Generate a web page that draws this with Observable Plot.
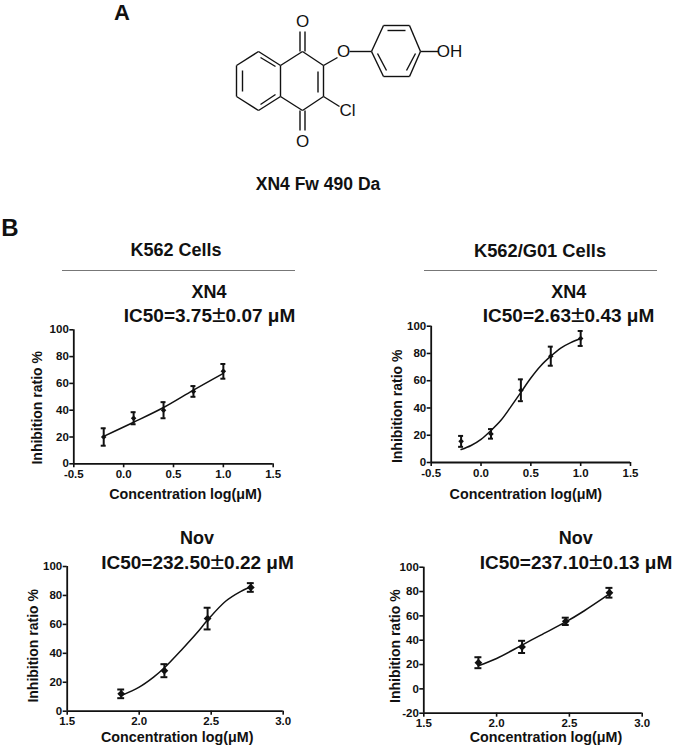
<!DOCTYPE html>
<html>
<head>
<meta charset="utf-8">
<script src="https://cdn.jsdelivr.net/npm/d3@7"></script>
<script src="https://cdn.jsdelivr.net/npm/@observablehq/plot@0.6"></script>
<style>
html,body{margin:0;padding:0;background:#fff}
#page{position:relative;width:676px;height:751px;overflow:hidden;font-family:"Liberation Sans",Arial,sans-serif;color:#111;font-weight:bold}
.t{position:absolute;white-space:nowrap;transform:translate(-50%,-50%);line-height:1.1}
.t .pm{font-weight:normal;font-size:1.3em;line-height:0.8}
.hr{position:absolute;height:1.5px;background:#777}
svg{position:absolute}
</style>
</head>
<body>
<div id="page"></div>
<script>
// ---- dose-response data ----
const xn4Dose = [-0.2, 0.1, 0.4, 0.7, 1.0];
const novDose = [1.875, 2.175, 2.475, 2.775];

const k562Xn4Mean = [20, 34, 40, 54, 69];
const k562Xn4Err  = [6.5, 4.5, 6, 4, 5.5];
const k562Xn4CurveX = [-0.2, 0.1, 0.4, 0.7, 1.0];
const k562Xn4CurveY = [20.5, 31, 42, 55, 67.5];

const g01Xn4Mean = [15.5, 21, 53, 78, 91];
const g01Xn4Err  = [4, 3.5, 8, 7, 5.5];
const g01Xn4CurveX = [-0.2, -0.1, 0, 0.1, 0.2, 0.3, 0.4, 0.5, 0.6, 0.7, 0.8, 0.9, 1.0];
const g01Xn4CurveY = [9.5, 12.5, 17, 23.5, 31, 41, 51.5, 62, 71, 78, 84, 88, 91];

const k562NovMean = [12, 28, 64, 85.5];
const k562NovErr  = [3, 4.5, 7.5, 3];
const k562NovCurveX = [1.875, 2.0, 2.1, 2.175, 2.3, 2.4, 2.475, 2.6, 2.7, 2.775];
const k562NovCurveY = [10.8, 16.6, 23.5, 30, 43, 54, 63, 76, 82.5, 86];

const g01NovMean = [21.5, 34.5, 55.5, 79];
const g01NovErr  = [4.5, 5, 3, 4];
const g01NovCurveX = [1.875, 2.0, 2.175, 2.3, 2.475, 2.6, 2.775];
const g01NovCurveY = [19, 25, 36, 44, 55, 64, 78];

const xTicksXn4 = [-0.5, 0, 0.5, 1, 1.5];
const xTicksNov = [1.5, 2, 2.5, 3];
const yTicks = [0, 20, 40, 60, 80, 100];
const yTicksNeg = [-20, 0, 20, 40, 60, 80, 100];

const xLabel = "Concentration log(μM)";
const yLabel = "Inhibition ratio %";

// ---- molecule drawing: bonds as [x1, y1, x2, y2] in drawing units ----
const naphthoquinoneBonds = [
  [78,51,56,65],[56,65,56,96],[56,96,78,110],[78,110,100,96],[100,96,100,65],[100,65,78,51],
  [100,65,122,51],[122,51,143,65],[143,65,143,96],[143,96,122,110],[122,110,100,96]
];
const innerBonds = [
  [62,70,62,91],[80,57,95,66],[80,104,95,94],[137.5,71,137.5,92],
  [119.5,51,119.5,31],[124.5,51,124.5,31],[119.5,110,119.5,130],[124.5,110,124.5,130]
];
const phenylBonds = [
  [143,65,157,57],[169,51,191,51],
  [191,51,203,25],[203,25,229,25],[229,25,240,51],[240,51,229,76],[229,76,203,76],[203,76,191,51],
  [207,30,225,30],[197,53,206,70],[235,53,226,70],
  [240,51,258,51],[143,96,159,106]
];
const atomText = ["O","O","O","Cl","OH"];
const atomX = [122,122,163,167,269];
const atomY = [21,141,51,110,51];

// ---- layout ----
const page = document.getElementById("page");
const FONT = '"Liberation Sans",Arial,sans-serif';

function label(text, x, y, size) {
  const d = document.createElement("div");
  d.className = "t";
  d.style.left = x + "px";
  d.style.top = y + "px";
  d.style.fontSize = size + "px";
  d.innerHTML = text;
  page.appendChild(d);
}
function hr(x1, x2, y) {
  const d = document.createElement("div");
  d.className = "hr";
  d.style.cssText += `left:${x1}px;width:${x2 - x1}px;top:${y}px`;
  page.appendChild(d);
}

function zip(xs, ys) { return xs.map((x, i) => ({x, y: ys[i]})); }

function panel(o) {
  const svgLeft = o.left, svgTop = o.top, w = o.w, h = o.h;
  const pts = o.dose.map((x, i) => ({x, y: o.mean[i], lo: o.mean[i] - o.err[i], hi: o.mean[i] + o.err[i]}));
  const curve = zip(o.cx, o.cy);
  const plot = Plot.plot({
    width: w, height: h,
    marginLeft: o.px[0] - svgLeft,
    marginRight: svgLeft + w - o.px[1],
    marginTop: o.py[1] - svgTop,
    marginBottom: svgTop + h - o.py[0],
    style: {fontFamily: FONT, fontWeight: "bold", fontSize: "11.5px", color: "#111", background: "transparent"},
    x: {domain: o.xDomain},
    y: {domain: o.yDomain},
    marks: [
      Plot.ruleY([o.yDomain[0]], {stroke: "#111", strokeWidth: 1.8}),
      Plot.ruleX([o.xDomain[0]], {stroke: "#111", strokeWidth: 1.8}),
      Plot.axisX({ticks: o.xTicks, tickFormat: d => d.toFixed(1), tickSize: 4, tickPadding: 2, strokeWidth: 1.6, stroke: "#111", label: null}),
      Plot.axisY({ticks: o.yTicks, tickFormat: d => String(d), tickSize: 4, tickPadding: 1, strokeWidth: 1.6, stroke: "#111", label: null}),
      Plot.line(curve, {x: "x", y: "y", curve: "catmull-rom", stroke: "#111", strokeWidth: 1.5}),
      Plot.ruleX(pts, {x: "x", y1: "lo", y2: "hi", stroke: "#111", strokeWidth: 2}),
      Plot.ruleY(pts, {y: "hi", x1: d => d.x - o.cap, x2: d => d.x + o.cap, stroke: "#111", strokeWidth: 2}),
      Plot.ruleY(pts, {y: "lo", x1: d => d.x - o.cap, x2: d => d.x + o.cap, stroke: "#111", strokeWidth: 2}),
      Plot.dot(pts, {x: "x", y: "y", r: o.r, fill: "#111", symbol: "diamond2"}),
      Plot.text([xLabel], {frameAnchor: "bottom", dx: o.xl[0], dy: o.xl[1], fontSize: 14.3, fill: "#111"}),
      Plot.text([yLabel], {frameAnchor: "left", textAnchor: "middle", rotate: -90, dx: o.yl[0], dy: o.yl[1], fontSize: 14, fill: "#111"})
    ]
  });
  plot.style.left = svgLeft + "px";
  plot.style.top = svgTop + "px";
  page.appendChild(plot);
}

const PM = '<span class="pm">±</span>';

// headings
label("A", 122, 13, 22);
label("B", 10, 228, 24);
label("XN4 Fw 490 Da", 318, 185, 17.5);
label("K562 Cells", 176, 250.5, 18);
label("K562/G01 Cells", 540, 250.5, 18.3);
hr(62, 295, 269.5);
hr(424, 657, 269.5);

// molecule
const toBond = ([x1, y1, x2, y2]) => ({x1, y1, x2, y2});
const bonds = [...naphthoquinoneBonds, ...innerBonds, ...phenylBonds].map(toBond);
const atoms = atomText.map((t, i) => ({t, x: atomX[i], y: atomY[i]}));
const mol = Plot.plot({
  width: 300, height: 170,
  margin: 0,
  axis: null,
  style: {fontFamily: FONT, fontWeight: "normal", background: "transparent", color: "#111"},
  x: {domain: [0, 300], range: [0, 300]},
  y: {domain: [0, 170], range: [0, 170]},
  marks: [
    Plot.link(bonds, {x1: "x1", y1: "y1", x2: "x2", y2: "y2", stroke: "#111", strokeWidth: 1.4}),
    Plot.text(atoms, {x: "x", y: "y", text: "t", fontSize: 17, fill: "#111"})
  ]
});
mol.style.left = "180px";
mol.style.top = "0px";
page.appendChild(mol);

// panels
panel({left: 0, top: 322, w: 338, h: 190, px: [73.3, 272.7], py: [463.3, 329.3],
  xDomain: [-0.5, 1.5], yDomain: [0, 100], xTicks: xTicksXn4, yTicks,
  dose: xn4Dose, mean: k562Xn4Mean, err: k562Xn4Err, cx: k562Xn4CurveX, cy: k562Xn4CurveY,
  cap: 0.025, r: 2.5, xl: [12, 35], yl: [-36, 11]});
panel({left: 338, top: 318, w: 338, h: 190, px: [430.7, 630], py: [462, 325.7],
  xDomain: [-0.5, 1.5], yDomain: [0, 100], xTicks: xTicksXn4, yTicks,
  dose: xn4Dose, mean: g01Xn4Mean, err: g01Xn4Err, cx: g01Xn4CurveX, cy: g01Xn4CurveY,
  cap: 0.025, r: 2.5, xl: [-5, 36], yl: [-34, 12]});
panel({left: 0, top: 558, w: 338, h: 193, px: [66.7, 282.7], py: [710.7, 566],
  xDomain: [1.5, 3], yDomain: [0, 100], xTicks: xTicksNov, yTicks,
  dose: novDose, mean: k562NovMean, err: k562NovErr, cx: k562NovCurveX, cy: k562NovCurveY,
  cap: 0.024, r: 3.5, xl: [2, 31], yl: [-34, 7]});
panel({left: 338, top: 558, w: 338, h: 193, px: [423.3, 641.7], py: [712.7, 566.7],
  xDomain: [1.5, 3], yDomain: [-20, 100], xTicks: xTicksNov, yTicks: yTicksNeg,
  dose: novDose, mean: g01NovMean, err: g01NovErr, cx: g01NovCurveX, cy: g01NovCurveY,
  cap: 0.024, r: 3.5, xl: [13, 29], yl: [-28, 6]});

// panel titles
const TITLE = 18, IC = 19;
label("XN4", 209, 293, TITLE);
label(`IC50=3.75${PM}0.07 μM`, 209.5, 315, IC);
label("XN4", 568.7, 293, TITLE);
label(`IC50=2.63${PM}0.43 μM`, 568.5, 315, IC);
label("Nov", 197, 539, TITLE);
label(`IC50=232.50${PM}0.22 μM`, 197.5, 561.5, IC);
label("Nov", 575.7, 539, TITLE);
label(`IC50=237.10${PM}0.13 μM`, 576, 561.5, IC);
</script>
</body>
</html>
